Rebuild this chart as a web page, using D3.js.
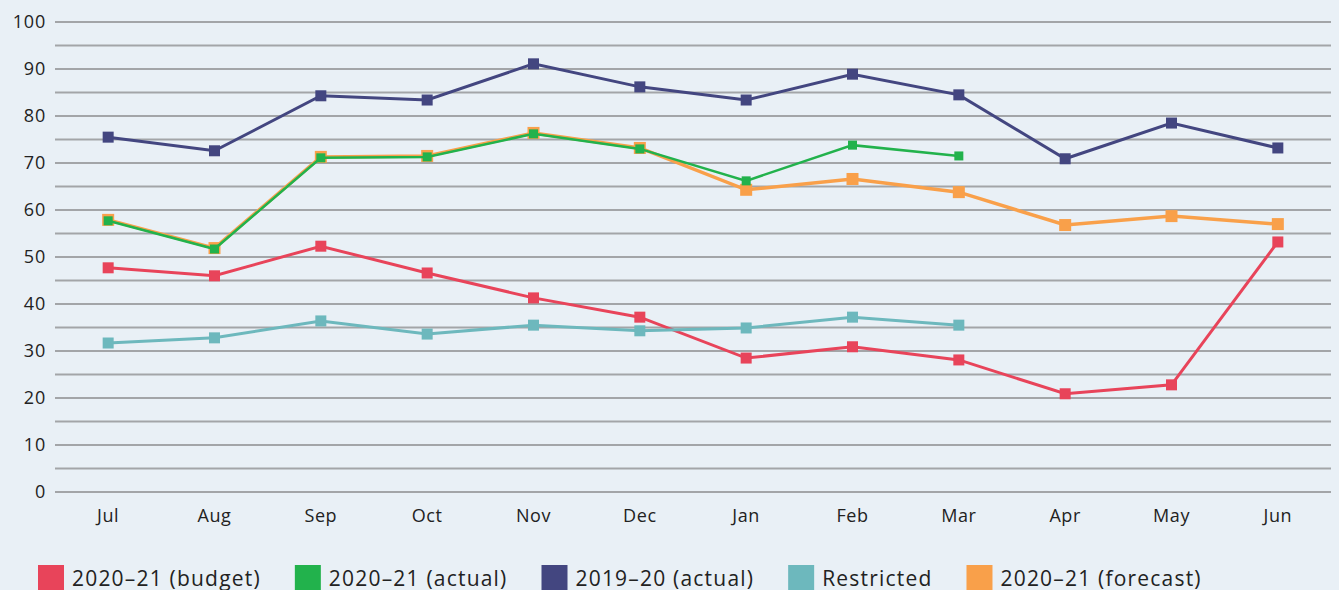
<!DOCTYPE html>
<html>
<head>
<meta charset="utf-8">
<script src="https://cdn.jsdelivr.net/npm/d3@7"></script>
<style>
  body { margin: 0; background: #e9f0f6; }
  svg { display: block; font-family: "Open Sans", sans-serif; }
</style>
</head>
<body>
<svg id="drawing_region"></svg>
<script>
const months = ["Jul", "Aug", "Sep", "Oct", "Nov", "Dec", "Jan", "Feb", "Mar", "Apr", "May", "Jun"];
const yTicks = [0, 10, 20, 30, 40, 50, 60, 70, 80, 90, 100];

const budget2021 = [47.7, 46.0, 52.3, 46.6, 41.3, 37.2, 28.5, 30.9, 28.1, 20.9, 22.8, 53.2];
const actual2021 = [57.7, 51.7, 71.1, 71.3, 76.2, 73.0, 66.2, 73.8, 71.5];
const actual1920 = [75.5, 72.6, 84.3, 83.4, 91.1, 86.2, 83.4, 88.9, 84.5, 70.9, 78.5, 73.2];
const restricted = [31.7, 32.8, 36.4, 33.6, 35.5, 34.3, 34.9, 37.2, 35.5];
const forecast2021 = [57.9, 51.9, 71.3, 71.5, 76.4, 73.2, 64.3, 66.6, 63.8, 56.8, 58.7, 57.0];

const series = [
    { name: "2020–21 (forecast)", values: forecast2021, color: "#f9a04a", width: 3.5, size: 12 },
    { name: "2020–21 (budget)", values: budget2021, color: "#e8445a", width: 3, size: 11 },
    { name: "2019–20 (actual)", values: actual1920, color: "#434680", width: 3, size: 11 },
    { name: "Restricted", values: restricted, color: "#6db8bd", width: 3, size: 11 },
    { name: "2020–21 (actual)", values: actual2021, color: "#22b24c", width: 2.5, size: 9 }
];
const legendOrder = ["2020–21 (budget)", "2020–21 (actual)", "2019–20 (actual)", "Restricted", "2020–21 (forecast)"];

const width = 1339, height = 590;
const margin = { top: 22, right: 8, bottom: 98, left: 55 };

const svg = d3.select("#drawing_region")
    .attr("width", width)
    .attr("height", height);

const x = d3.scaleBand()
    .domain(months)
    .range([margin.left, width - margin.right]);

const y = d3.scaleLinear()
    .domain([0, 100])
    .range([height - margin.bottom, margin.top]);

// gridlines every 5
svg.append("g")
    .selectAll("line")
    .data(d3.range(0, 101, 5))
    .enter()
    .append("line")
    .attr("x1", margin.left)
    .attr("x2", width - margin.right)
    .attr("y1", d => y(d))
    .attr("y2", d => y(d))
    .attr("stroke", "#a3a5a8")
    .attr("stroke-width", 2);

// y axis labels
svg.append("g")
    .selectAll("text")
    .data(yTicks)
    .enter()
    .append("text")
    .attr("x", 46)
    .attr("y", d => y(d))
    .attr("dy", "0.35em")
    .attr("text-anchor", "end")
    .attr("font-size", 18)
    .attr("letter-spacing", 0.8)
    .attr("fill", "#222")
    .text(d => d);

// x axis labels
svg.append("g")
    .selectAll("text")
    .data(months)
    .enter()
    .append("text")
    .attr("x", d => x(d) + x.bandwidth() / 2)
    .attr("y", 522)
    .attr("text-anchor", "middle")
    .attr("font-size", 18)
    .attr("letter-spacing", 0.6)
    .attr("fill", "#222")
    .text(d => d);

const line = d3.line()
    .x((d, i) => x(months[i]) + x.bandwidth() / 2)
    .y(d => y(d));

series.forEach(s => {
    const g = svg.append("g");
    g.append("path")
        .datum(s.values)
        .attr("d", line)
        .attr("fill", "none")
        .attr("stroke", s.color)
        .attr("stroke-width", s.width);
    g.selectAll("rect")
        .data(s.values)
        .enter()
        .append("rect")
        .attr("x", (d, i) => x(months[i]) + x.bandwidth() / 2 - s.size / 2)
        .attr("y", d => y(d) - s.size / 2)
        .attr("width", s.size)
        .attr("height", s.size)
        .attr("fill", s.color);
});

// legend
const legend = svg.append("g");
let lx = 38;
legendOrder.forEach(name => {
    const s = series.find(d => d.name === name);
    legend.append("rect")
        .attr("x", lx)
        .attr("y", 565)
        .attr("width", 26)
        .attr("height", 26)
        .attr("fill", s.color);
    const t = legend.append("text")
        .attr("x", lx + 34)
        .attr("y", 586)
        .attr("font-size", 21)
        .attr("letter-spacing", 1.2)
        .attr("fill", "#222")
        .text(name);
    lx += 34 + t.node().getComputedTextLength() + 34;
});
</script>
</body>
</html>
